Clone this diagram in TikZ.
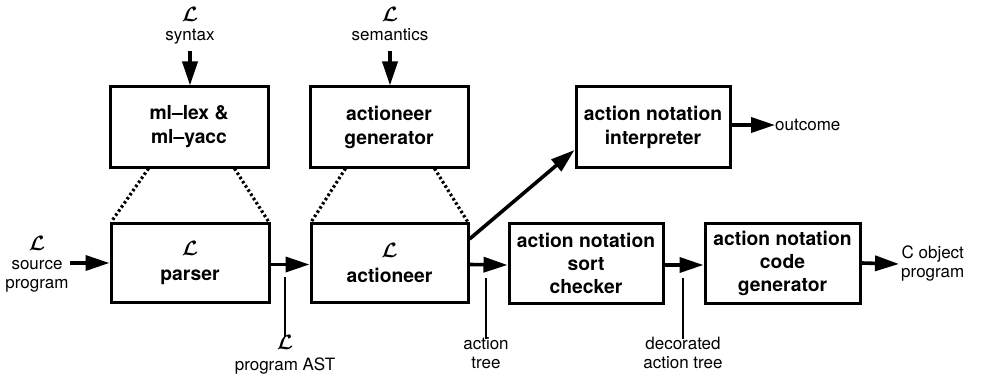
\documentclass[tikz,border=0pt]{standalone}
\usepackage{fontspec}
\usepackage{bm}
\setmainfont{TeX Gyre Heros}
\usetikzlibrary{arrows.meta,calc}
\newcommand{\LL}{{\fontsize{21}{19}\selectfont$\bm{\mathcal{L}}$}}
\tikzset{
  blk/.style={draw, line width=3pt, align=center, inner sep=0pt,
    font=\bfseries\fontsize{19.3}{24}\selectfont},
  lbl/.style={align=center, inner sep=0pt, font=\fontsize{17}{19}\selectfont},
  flow/.style={line width=3.6pt, -{Triangle[length=24pt,width=15pt]}},
  dots/.style={line width=3.2pt, dash pattern=on 2.5pt off 2.5pt},
  ptr/.style={line width=2pt}
}
\begin{document}
\begin{tikzpicture}[x=1pt,y=-1pt]
\useasboundingbox (0,0) rectangle (984,377);
% boxes
\node[blk, minimum width=158pt, minimum height=80pt] (mllex) at (189,127) {ml–lex \&\\ml–yacc};
\node[blk, minimum width=158pt, minimum height=80pt] (actgen) at (389,127) {actioneer\\generator};
\node[blk, minimum width=154pt, minimum height=80pt] (interp) at (653,127) {action notation\\interpreter};
\node[blk, minimum width=158pt, minimum height=79pt] (parser) at (190,262.5) {{\normalfont\LL}\\[1pt]parser};
\node[blk, minimum width=157pt, minimum height=79pt] (actioneer) at (389.5,262.5) {{\normalfont\LL}\\[1pt]actioneer};
\node[blk, minimum width=154pt, minimum height=80pt] (sort) at (586,263) {action notation\\[-1pt]sort\\[-1pt]checker};
\node[blk, minimum width=155pt, minimum height=80pt] (codegen) at (782.5,263) {action notation\\[-1pt]code\\[-1pt]generator};
% labels
\node[lbl, anchor=north] (syn) at (190,7) {\LL\\[0pt]syntax};
\node[lbl, anchor=north] (sem) at (390,7) {\LL\\[0pt]semantics};
\node[lbl] (src) at (37,264) {\LL\\source\\program};
\node[lbl] (ast) at (285,355) {\LL\\[2pt]program AST};
\node[lbl] (atree) at (486,353) {action\\tree};
\node[lbl] (dtree) at (683,353) {decorated\\action tree};
\node[lbl, anchor=west] (cobj) at (901,264) {C object\\program};
\node[lbl, anchor=west] (out) at (775,125) {outcome};
% input arrows
\coordinate (synS) at (190,51);
\coordinate (semS) at (390,51);
\draw[flow] (synS) -- (synS |- mllex.north);
\draw[flow] (semS) -- (semS |- actgen.north);
\coordinate (srcE) at (70,263);
\draw[flow] (srcE) -- (srcE -| parser.west);
% dotted expansion lines
\draw[dots] ([xshift=40pt]mllex.south west) -- ([xshift=2pt]parser.north west);
\draw[dots] ([xshift=-35pt]mllex.south east) -- ([xshift=-2pt]parser.north east);
\draw[dots] ([xshift=37pt]actgen.south west) -- ([xshift=2pt]actioneer.north west);
\draw[dots] ([xshift=-35pt]actgen.south east) -- ([xshift=-2pt]actioneer.north east);
% main flow
\draw[flow] ([yshift=-2pt]parser.east) -- ([yshift=-2pt]actioneer.west);
\draw[flow] ([yshift=-2pt]actioneer.east) -- ([yshift=-2pt]sort.west);
\draw[flow] ([yshift=-2pt]sort.east) -- ([yshift=-2pt]codegen.west);
\draw[flow] (codegen.east) -- ([xshift=-2pt]cobj.west);
\draw[flow] ([yshift=23.5pt]actioneer.east) -- ([yshift=-23pt]interp.west);
\draw[flow] ([yshift=2pt]interp.east) -- (out.west);
% pointers
\coordinate (pAST) at (285,277);
\coordinate (pAT) at (486,278);
\coordinate (pDT) at (683,278);
\draw[ptr] (pAST) -- ([yshift=-2pt]ast.north);
\draw[ptr] (pAT) -- ([yshift=-2pt]atree.north);
\draw[ptr] (pDT) -- ([yshift=-2pt]dtree.north);
\end{tikzpicture}
\end{document}
